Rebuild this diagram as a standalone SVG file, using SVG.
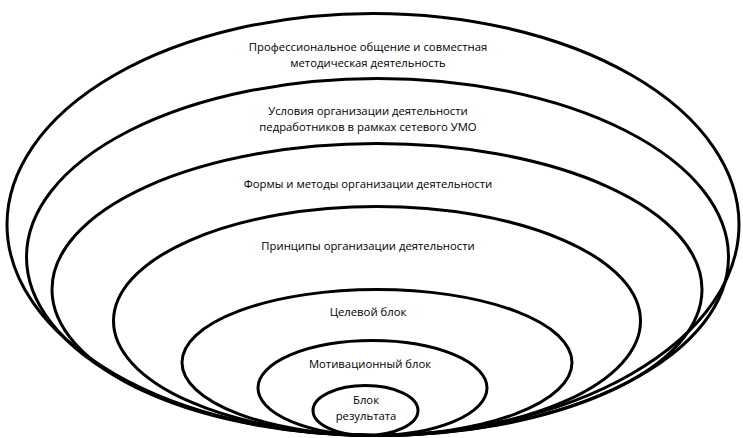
<svg xmlns="http://www.w3.org/2000/svg" width="743" height="438" viewBox="0 0 743 438">
<style>
.e{fill:none;stroke:#000;stroke-width:3}
text{font-family:"Open Sans","Noto Sans",sans-serif;font-size:11.3px;fill:#000;text-anchor:middle}
</style>
<rect width="743" height="438" fill="#fff"/>
<g id="n1"><ellipse class="e" cx="373" cy="224.5" rx="366" ry="211"/>
<text x="368" y="51">Профессиональное общение и совместная</text><text x="368" y="67">методическая деятельность</text></g>
<g id="n2"><ellipse class="e" cx="377.5" cy="257" rx="351" ry="178.5"/>
<text x="368" y="115">Условия организации деятельности</text><text x="368" y="131">педработников в рамках сетевого УМО</text></g>
<g id="n3"><ellipse class="e" cx="377" cy="289.5" rx="325" ry="146"/>
<text x="368" y="188">Формы и методы организации деятельности</text></g>
<g id="n4"><ellipse class="e" cx="377" cy="321" rx="263.5" ry="114.5"/>
<text x="368" y="250">Принципы организации деятельности</text></g>
<g id="n5"><ellipse class="e" cx="377" cy="362.5" rx="195" ry="73"/>
<text x="368" y="316">Целевой блок</text></g>
<g id="n6"><ellipse class="e" cx="372.5" cy="388" rx="114.5" ry="47.5"/>
<text x="370" y="368">Мотивационный блок</text></g>
<g id="n7"><ellipse class="e" cx="365.5" cy="410.5" rx="52.5" ry="25"/>
<text x="366" y="404">Блок</text><text x="366" y="420">результата</text></g>
<g id="connectors"></g>
</svg>
